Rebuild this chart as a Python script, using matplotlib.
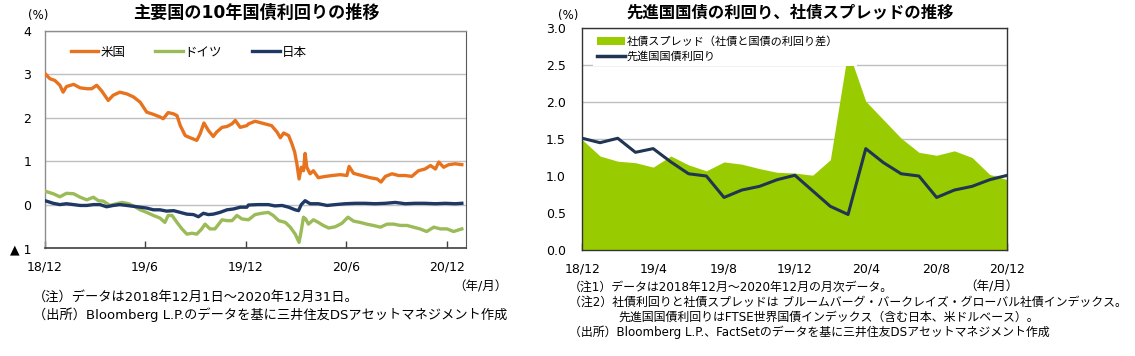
import numpy as np
import pandas as pd
import matplotlib
matplotlib.use('Agg')
import matplotlib.pyplot as plt
from matplotlib.lines import Line2D
from matplotlib.patches import Patch

plt.rcParams['font.family'] = ['DejaVu Sans', 'Noto Sans CJK JP']

# ---- 左: 主要国の10年国債利回り (2018/12/1 からの経過日数, %) ----
start = pd.Timestamp('2018-12-01')

us_day = [0, 9, 18, 27, 33, 39, 52, 64, 76, 85, 94, 103, 115, 124, 136, 149, 161, 173,
          185, 197, 209, 215, 224, 234, 240, 246, 255, 264, 276, 282, 289, 297, 306, 312,
          322, 331, 340, 346, 355, 367, 370, 382, 394, 412, 422, 428, 434, 443, 449, 454,
          458, 462, 466, 470, 473, 476, 482, 488, 497, 510, 522, 537, 549, 553, 561, 576,
          591, 604, 611, 619, 631, 643, 655, 667, 679, 691, 701, 710, 716, 725, 734, 746, 758]
us_yield = [3.02, 2.90, 2.86, 2.75, 2.59, 2.72, 2.77, 2.69, 2.67, 2.67, 2.75, 2.62, 2.40, 2.52,
            2.59, 2.55, 2.48, 2.36, 2.13, 2.08, 2.02, 1.98, 2.12, 2.09, 2.05, 1.82, 1.59, 1.54,
            1.48, 1.63, 1.88, 1.71, 1.57, 1.67, 1.78, 1.80, 1.86, 1.94, 1.78, 1.82, 1.86, 1.92,
            1.88, 1.82, 1.67, 1.54, 1.65, 1.59, 1.40, 1.21, 0.94, 0.59, 0.86, 0.78, 1.18, 0.86,
            0.71, 0.78, 0.62, 0.65, 0.67, 0.69, 0.67, 0.88, 0.72, 0.67, 0.62, 0.59, 0.52, 0.65,
            0.71, 0.67, 0.67, 0.65, 0.78, 0.82, 0.90, 0.82, 0.98, 0.86, 0.92, 0.94, 0.92]

de_day = [0, 15, 27, 39, 52, 64, 76, 88, 97, 106, 118, 130, 140, 152, 164, 173, 185, 197, 209,
          218, 224, 231, 240, 249, 258, 267, 276, 285, 291, 300, 309, 322, 331, 340, 349, 358,
          370, 382, 394, 406, 415, 425, 437, 446, 455, 462, 466, 470, 474, 479, 488, 497, 506,
          516, 528, 540, 551, 561, 573, 585, 597, 610, 622, 634, 646, 658, 670, 682, 694, 707,
          719, 731, 743, 758]
de_yield = [0.31, 0.25, 0.18, 0.26, 0.25, 0.17, 0.11, 0.17, 0.09, 0.08, -0.02, 0.02, 0.05, 0.02,
            -0.05, -0.12, -0.18, -0.25, -0.31, -0.41, -0.25, -0.25, -0.41, -0.56, -0.68, -0.66,
            -0.68, -0.56, -0.45, -0.56, -0.56, -0.35, -0.37, -0.37, -0.25, -0.33, -0.35, -0.23,
            -0.20, -0.18, -0.25, -0.37, -0.41, -0.52, -0.68, -0.87, -0.60, -0.29, -0.33, -0.45,
            -0.35, -0.41, -0.48, -0.54, -0.51, -0.43, -0.29, -0.38, -0.41, -0.45, -0.48, -0.52,
            -0.45, -0.45, -0.48, -0.48, -0.52, -0.56, -0.62, -0.52, -0.56, -0.56, -0.62, -0.56]

jp_day = [0, 15, 27, 39, 52, 64, 76, 88, 100, 112, 124, 136, 149, 161, 173, 185, 197, 209, 221,
          234, 246, 258, 270, 279, 288, 297, 306, 318, 331, 343, 355, 367, 370, 388, 406, 418,
          431, 443, 455, 461, 466, 473, 482, 497, 513, 528, 546, 564, 582, 600, 619, 637, 655,
          673, 691, 710, 728, 746, 758]
jp_yield = [0.09, 0.03, 0.00, 0.02, 0.00, -0.02, -0.02, 0.00, 0.00, -0.05, -0.02, 0.00, -0.02,
            -0.04, -0.06, -0.08, -0.12, -0.12, -0.15, -0.14, -0.18, -0.22, -0.23, -0.28, -0.20,
            -0.23, -0.22, -0.18, -0.12, -0.10, -0.06, -0.06, -0.01, 0.00, 0.00, -0.03, -0.02,
            -0.06, -0.12, -0.14, 0.00, 0.09, 0.02, 0.02, -0.02, 0.00, 0.02, 0.03, 0.03, 0.02,
            0.03, 0.05, 0.02, 0.03, 0.03, 0.02, 0.03, 0.02, 0.03]

left_ticks = ['2018-12-01', '2019-06-01', '2019-12-01', '2020-06-01', '2020-12-01']
left_tick_labels = ['18/12', '19/6', '19/12', '20/6', '20/12']

# ---- 右: 先進国国債の利回り、社債スプレッド (月次, %) ----
months = ['18/12', '19/1', '19/2', '19/3', '19/4', '19/5', '19/6', '19/7', '19/8', '19/9',
          '19/10', '19/11', '19/12', '20/1', '20/2', '20/3', '20/4', '20/5', '20/6', '20/7',
          '20/8', '20/9', '20/10', '20/11', '20/12']
spread = [1.49, 1.27, 1.20, 1.18, 1.12, 1.27, 1.15, 1.07, 1.19, 1.16, 1.10, 1.05, 1.04,
          1.01, 1.22, 2.70, 2.01, 1.76, 1.51, 1.32, 1.28, 1.34, 1.25, 1.02, 0.95]
govt_yield = [1.51, 1.45, 1.51, 1.32, 1.37, 1.19, 1.03, 1.00, 0.71, 0.81, 0.86, 0.95, 1.01,
              0.80, 0.59, 0.48, 1.37, 1.18, 1.03, 1.00, 0.71, 0.81, 0.86, 0.95, 1.01]
right_tick_labels = ['18/12', '19/4', '19/8', '19/12', '20/4', '20/8', '20/12']

c_us = '#E8731E'
c_de = '#9BBB59'
c_jp = '#1F3864'
c_fill = '#99CC00'
c_line = '#1F3552'
c_grid = '#BFBFBF'

W, H = 1135, 356
fig = plt.figure(figsize=(W / 100, H / 100), dpi=100)


def fx(px):
    return px / W


def fy(py):
    return 1 - py / H


# ---------------- 左チャート ----------------
ax1 = fig.add_axes([fx(45), fy(248), fx(465.7 - 45), (248 - 31) / H])
to_date = lambda d: start + pd.to_timedelta(d, unit='D')
ax1.plot(to_date(us_day), us_yield, color=c_us, lw=2.4, label='米国', zorder=3)
ax1.plot(to_date(de_day), de_yield, color=c_de, lw=2.4, label='ドイツ', zorder=3)
ax1.plot(to_date(jp_day), jp_yield, color=c_jp, lw=2.4, label='日本', zorder=4)
ax1.set_xlim(start, start + pd.Timedelta(days=765))
ax1.set_ylim(-1, 4)
ax1.set_yticks([-1, 0, 1, 2, 3, 4])
ax1.set_yticklabels(['▲ 1', '0', '1', '2', '3', '4'])
ax1.yaxis.grid(True, color=c_grid, lw=1)
ax1.set_axisbelow(True)
ax1.set_xticks(pd.to_datetime(left_ticks))
ax1.set_xticklabels(left_tick_labels)
ax1.tick_params(axis='x', direction='in', length=5, width=1, color='#404040',
                labelsize=9, pad=9)
ax1.tick_params(axis='y', length=0, labelsize=9, pad=10)
for side in ['top', 'left']:
    ax1.spines[side].set_color('#8C8C8C')
    ax1.spines[side].set_linewidth(1)
ax1.spines['right'].set_color('#595959')
ax1.spines['bottom'].set_color('#404040')
ax1.spines['bottom'].set_linewidth(1.2)
ax1.legend(loc='upper left', bbox_to_anchor=(0.035, 0.985), ncol=3, frameon=False,
           fontsize=9, handlelength=2.2, handletextpad=0.15, columnspacing=2.4)

# ---------------- 右チャート ----------------
ax2 = fig.add_axes([fx(582.3), fy(250), fx(1007.5 - 582.3), (250 - 28) / H])
x = np.arange(len(months))
ax2.fill_between(x, spread, 0, color=c_fill, lw=0, zorder=2)
ax2.plot(x, govt_yield, color=c_line, lw=2.2, zorder=3)
ax2.set_xlim(0, len(months) - 1)
ax2.set_ylim(0, 3)
ax2.set_yticks(np.arange(0, 3.01, 0.5))
ax2.set_yticklabels([f'{v:.1f}' for v in np.arange(0, 3.01, 0.5)])
ax2.yaxis.grid(True, color=c_grid, lw=1)
ax2.set_axisbelow(True)
ax2.set_xticks(x[::4])
ax2.set_xticklabels(right_tick_labels)
ax2.tick_params(axis='x', direction='in', length=5, width=1, color='#333333',
                labelsize=9, pad=9)
ax2.tick_params(axis='y', length=0, labelsize=9, pad=12)
for side in ax2.spines.values():
    side.set_color('#333333')
    side.set_linewidth(1)
handles = [Patch(facecolor=c_fill, edgecolor='none'),
           Line2D([], [], color=c_line, lw=2.5)]
# 白地の凡例枠がピーク上端を隠す (元図と同じ)
leg = ax2.legend(handles, ['社債スプレッド（社債と国債の利回り差）', '先進国国債利回り'],
                 loc='upper left', bbox_to_anchor=(0.025, 0.5, 0.62, 0.482), mode='expand',
                 frameon=True, fontsize=8, handlelength=2.5, handletextpad=0.2,
                 labelspacing=0.4, borderpad=0.35, borderaxespad=0, fancybox=False)
leg.get_frame().set_facecolor('white')
leg.get_frame().set_edgecolor('none')
leg.get_frame().set_alpha(1)
leg.set_zorder(5)

# ---------------- テキスト ----------------
fig.text(fx(256), fy(13), '主要国の10年国債利回りの推移', ha='center', va='center',
         fontsize=12.3, fontweight='bold')
fig.text(fx(790), fy(13), '先進国国債の利回り、社債スプレッドの推移', ha='center', va='center',
         fontsize=11.8, fontweight='bold')
fig.text(fx(38), fy(15), '(%)', ha='center', va='center', fontsize=8.5)
fig.text(fx(568), fy(15), '(%)', ha='center', va='center', fontsize=8.5)
fig.text(fx(480), fy(287), '（年/月）', ha='center', va='center', fontsize=9)
fig.text(fx(991), fy(287), '（年/月）', ha='center', va='center', fontsize=9)

fig.text(fx(33), fy(297), '（注）データは2018年12月1日～2020年12月31日。', ha='left', va='center',
         fontsize=9.5)
fig.text(fx(33), fy(315), '（出所）Bloomberg L.P.のデータを基に三井住友DSアセットマネジメント作成',
         ha='left', va='center', fontsize=9.5)

fig.text(fx(569), fy(287), '（注1）データは2018年12月～2020年12月の月次データ。', ha='left',
         va='center', fontsize=8.6)
fig.text(fx(569), fy(302), '（注2）社債利回りと社債スプレッドは ブルームバーグ・バークレイズ・グローバル社債インデックス。',
         ha='left', va='center', fontsize=8.6)
fig.text(fx(618), fy(317), '先進国国債利回りはFTSE世界国債インデックス（含む日本、米ドルベース）。',
         ha='left', va='center', fontsize=8.6)
fig.text(fx(569), fy(332), '（出所）Bloomberg L.P.、FactSetのデータを基に三井住友DSアセットマネジメント作成',
         ha='left', va='center', fontsize=8.6)

fig.savefig('out.png', dpi=100, facecolor='white')
